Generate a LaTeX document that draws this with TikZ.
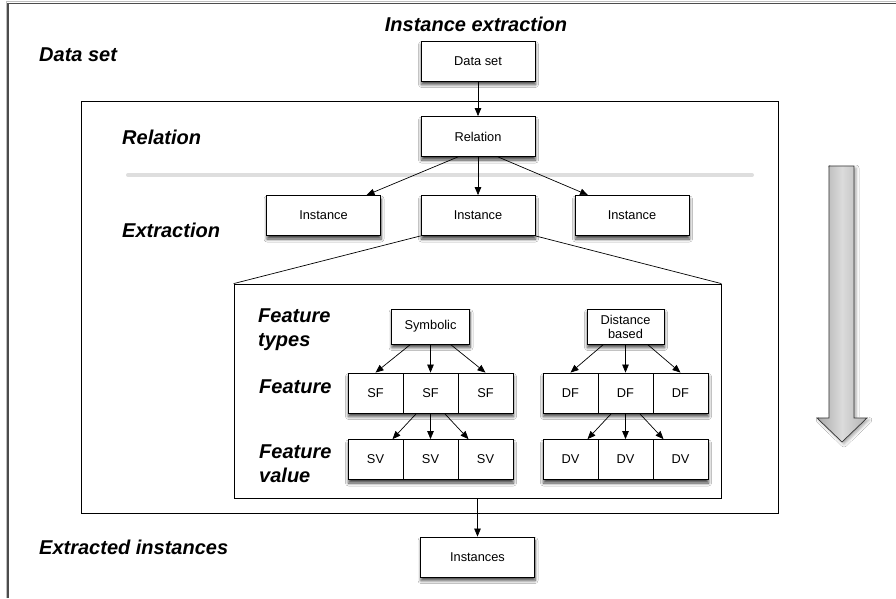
\documentclass[tikz,border=0pt]{standalone}
\usepackage{fontspec}
\setmainfont{Liberation Sans}
\usetikzlibrary{arrows.meta,shadows.blur}

\tikzset{
  softshadow/.style={blur shadow={shadow xshift=0.5pt, shadow yshift=-3.5pt,
      shadow blur radius=3pt, shadow blur steps=6, shadow opacity=75}},
  box/.style={draw=black, line width=0.8pt, fill=white, inner sep=0pt,
      minimum width=114pt, minimum height=40pt, align=center,
      font=\fontsize{12.8}{15}\selectfont, softshadow},
  typebox/.style={box, minimum width=78pt, minimum height=35pt},
  cell/.style={draw=black, line width=0.8pt, fill=white, inner sep=0pt,
      minimum width=55pt, minimum height=40pt,
      font=\fontsize{12.8}{15}\selectfont},
  rowshadow/.style={fill=white, inner sep=0pt, minimum width=165pt,
      minimum height=40pt, softshadow},
  frame/.style={draw=black, line width=0.8pt, inner sep=0pt},
  lbl/.style={anchor=west, inner sep=0pt, align=left,
      font=\fontsize{20}{24}\selectfont\bfseries\itshape},
  arr/.style={draw=black, line width=0.7pt, -{Triangle[length=8pt,width=6.5pt]}},
  plain/.style={draw=black, line width=0.7pt}
}

\begin{document}
\begin{tikzpicture}[x=1pt, y=-1pt]
\useasboundingbox (0,0) rectangle (896,598);
\fill[white] (0,0) rectangle (896,598);

% page frame along the top and left
\draw[line width=1.2pt, black!25] (6.5,598) -- (6.5,1.6) -- (896,1.6);
\draw[line width=1.2pt, black!70] (8,598) -- (8,3.2) -- (896,3.2);

% stage frames
\node[frame, minimum width=697pt, minimum height=412pt] (stage) at (429.5,307) {};
\node[frame, minimum width=487pt, minimum height=214pt] (feat) at (477.5,391) {};

% separator between relation and extraction
\draw[line width=4pt, black!13, line cap=round] (128,175) -- (752,175);

% row titles
\node[font=\fontsize{20}{24}\selectfont\bfseries\itshape, inner sep=0pt] (title) at (476,24) {Instance extraction};
\node[lbl] (ldata) at (39,55) {Data set};
\node[lbl] (lrel) at (122,137) {Relation};
\node[lbl] (lext) at (122,230) {Extraction};
\node[lbl] (ltypes) at (258,330) {Feature\\types};
\node[lbl] (lfeat) at (259,387) {Feature};
\node[lbl] (lval) at (259,464) {Feature\\value};
\node[lbl] (lout) at (39,547) {Extracted instances};

% main chain
\node[box] (data) at (478,61) {Data set};
\node[box] (rel) at (478,136.5) {Relation};
\node[box] (i1) at (323.5,215.5) {Instance};
\node[box] (i2) at (478,215.5) {Instance};
\node[box] (i3) at (632,215.5) {Instance};
\node[box] (out) at (477.5,557) {Instances};

\draw[arr] (data.south) -- (rel.north);
\draw[arr] ([xshift=-20pt]rel.south) -- ([xshift=43pt]i1.north);
\draw[arr] (rel.south) -- (i2.north);
\draw[arr] ([xshift=20pt]rel.south) -- ([xshift=-44pt]i3.north);

% zoom lines from the middle instance onto the feature frame
\draw[plain] (i2.south west) -- (feat.north west);
\draw[plain] (i2.south east) -- (feat.north east);

% feature types
\node[typebox] (sym) at (430.5,326.5) {Symbolic};
\node[typebox, minimum width=77pt] (dist) at (625.5,326.5) {Distance\\[-1pt]based};

% feature rows
\node[rowshadow] (sfrow) at (430.5,393) {};
\node[rowshadow] (svrow) at (430.5,459.5) {};
\node[rowshadow] (dfrow) at (625.5,393) {};
\node[rowshadow] (dvrow) at (625.5,459.5) {};

\node[cell] (sf1) at (375.5,393) {SF};
\node[cell] (sf2) at (430.5,393) {SF};
\node[cell] (sf3) at (485.5,393) {SF};
\node[cell] (sv1) at (375.5,459.5) {SV};
\node[cell] (sv2) at (430.5,459.5) {SV};
\node[cell] (sv3) at (485.5,459.5) {SV};

\node[cell] (df1) at (570.5,393) {DF};
\node[cell] (df2) at (625.5,393) {DF};
\node[cell] (df3) at (680.5,393) {DF};
\node[cell] (dv1) at (570.5,459.5) {DV};
\node[cell] (dv2) at (625.5,459.5) {DV};
\node[cell] (dv3) at (680.5,459.5) {DV};

\draw[arr] ([xshift=-20pt]sym.south) -- (sf1.north);
\draw[arr] (sym.south) -- (sf2.north);
\draw[arr] ([xshift=20pt]sym.south) -- (sf3.north);
\draw[arr] ([xshift=-14pt]sf2.south) -- ([xshift=-38pt]sv2.north);
\draw[arr] (sf2.south) -- (sv2.north);
\draw[arr] ([xshift=14pt]sf2.south) -- ([xshift=38pt]sv2.north);

\draw[arr] ([xshift=-22pt]dist.south) -- (df1.north);
\draw[arr] (dist.south) -- (df2.north);
\draw[arr] ([xshift=22pt]dist.south) -- (df3.north);
\draw[arr] ([xshift=-14pt]df2.south) -- ([xshift=-38pt]dv2.north);
\draw[arr] (df2.south) -- (dv2.north);
\draw[arr] ([xshift=14pt]df2.south) -- ([xshift=38pt]dv2.north);

% result of the extraction
\draw[arr] (feat.south) -- (out.north);

% process direction arrow
\path[left color=black!34, right color=black!30, middle color=black!14,
      draw=black!80, line width=0.7pt,
      blur shadow={shadow xshift=2pt, shadow yshift=-2pt, shadow blur radius=3pt, shadow opacity=35}]
  (829,166) -- (854,166) -- (854,418) -- (867,418) -- (842,442)
  -- (817,418) -- (829,418) -- cycle;
\end{tikzpicture}
\end{document}
